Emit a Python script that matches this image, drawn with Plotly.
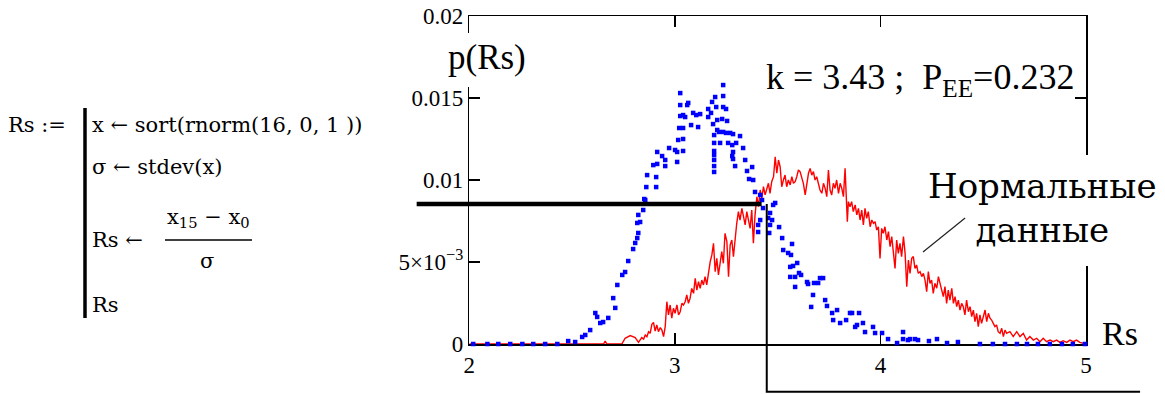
import plotly.graph_objects as go

# ---------------- data ----------------
# blue dotted series (Rs values and probability density, in units of 1e-3)
blue_rs = [2.019, 2.088, 2.141, 2.199, 2.258, 2.311, 2.369, 2.428, 2.481, 2.515,
           2.549, 2.564, 2.588, 2.613, 2.622, 2.637, 2.651, 2.676, 2.700, 2.710,
           2.720, 2.744, 2.758, 2.773, 2.797, 2.807, 2.817, 2.822, 2.817, 2.831,
           2.822, 2.846, 2.856, 2.851, 2.861, 2.865, 2.909, 2.909, 2.895, 2.914,
           2.914, 2.938, 2.953, 2.953, 2.972, 3.001, 3.011, 3.011, 3.016, 3.040,
           3.040, 3.021, 3.040, 3.026, 3.040, 3.026, 3.060, 3.065, 3.026, 3.050,
           3.079, 3.089, 3.104, 3.113, 3.123, 3.162, 3.162, 3.176, 3.181, 3.196,
           3.201, 3.186, 3.206, 3.206, 3.191, 3.191, 3.191, 3.191, 3.191, 3.191,
           3.191, 3.215, 3.220, 3.230, 3.235, 3.235, 3.235, 3.249, 3.254, 3.235,
           3.249, 3.269, 3.283, 3.259, 3.279, 3.283, 3.279, 3.283, 3.298, 3.317,
           3.332, 3.293, 3.342, 3.351, 3.376, 3.361, 3.381, 3.390, 3.415, 3.424,
           3.429, 3.415, 3.405, 3.405, 3.454, 3.463, 3.473, 3.463, 3.459, 3.478,
           3.488, 3.507, 3.522, 3.527, 3.551, 3.565, 3.570, 3.561, 3.575, 3.595,
           3.561, 3.585, 3.604, 3.614, 3.585, 3.643, 3.648, 3.672, 3.677, 3.697,
           3.706, 3.721, 3.663, 3.731, 3.740, 3.765, 3.789, 3.770, 3.804, 3.833,
           3.852, 3.862, 3.896, 3.886, 3.877, 3.915, 3.925, 3.964, 3.974, 4.008,
           4.037, 4.081, 4.110, 4.110, 4.134, 4.144, 4.168, 4.183, 4.236, 4.275,
           4.324, 4.377, 4.484, 4.547, 4.606, 4.664, 4.713, 4.766, 4.824, 4.883,
           4.936, 4.995]
blue_p_e3 = [0, 0, 0, 0, 0, 0, 0, 0, 0.18, 0.12,
             0.43, 0.55, 0.85, 1.89, 1.65, 1.28, 1.34, 1.59, 2.80, 2.20,
             3.60, 4.21, 4.39, 5.06, 5.79, 6.16, 6.46, 6.77, 7.38, 7.44,
             7.87, 8.17, 8.78, 8.84, 9.57, 10.30, 9.57, 10.18, 10.91, 10.98,
             11.71, 11.46, 11.22, 10.85, 11.95, 11.83, 11.10, 11.71, 12.44, 12.50,
             11.77, 13.17, 13.17, 13.90, 13.96, 14.57, 14.57, 14.70, 15.30, 13.84,
             13.35, 14.09, 13.96, 13.23, 14.02, 14.33, 13.84, 14.09, 14.76, 15.06,
             14.45, 13.41, 13.66, 13.05, 12.74, 12.26, 11.77, 11.52, 11.22, 10.85,
             10.49, 12.93, 12.26, 13.72, 15.79, 15.12, 14.45, 14.33, 13.60, 12.93,
             12.87, 12.87, 12.80, 12.26, 12.13, 11.71, 11.46, 11.28, 12.26, 12.68,
             11.95, 10.85, 11.22, 10.55, 10.79, 10.06, 10.00, 9.27, 9.09, 8.78,
             8.29, 7.56, 7.26, 6.83, 7.68, 7.99, 7.56, 7.26, 6.77, 8.48,
             8.60, 7.13, 6.46, 5.73, 5.55, 5.43, 6.10, 4.70, 4.76, 4.94,
             4.09, 4.09, 4.33, 4.21, 3.48, 3.78, 3.66, 2.99, 3.72, 3.72,
             4.02, 4.02, 2.26, 2.68, 2.32, 1.89, 2.07, 1.46, 1.28, 1.46,
             1.89, 1.89, 1.89, 1.16, 1.04, 1.28, 0.73, 1.04, 0.67, 0.67,
             0.30, 0.06, 0.73, 0.30, 0.24, 0.30, 0.30, 0.24, 0.18, 0.30,
             0.06, 0.12, 0, 0, 0, 0, 0, 0, 0, 0,
             0, 0]

# red line series ("Нормальные данные")
red_rs = [2.000, 2.653, 2.661, 2.669, 2.742, 2.758, 2.783, 2.807, 2.823, 2.831,
          2.839, 2.848, 2.856, 2.864, 2.872, 2.880, 2.888, 2.896, 2.904, 2.912,
          2.920, 2.929, 2.937, 2.945, 2.953, 2.961, 2.969, 2.977, 2.985, 2.993,
          3.001, 3.010, 3.018, 3.026, 3.034, 3.042, 3.050, 3.058, 3.066, 3.074,
          3.082, 3.091, 3.099, 3.107, 3.115, 3.123, 3.131, 3.139, 3.147, 3.155,
          3.163, 3.172, 3.180, 3.188, 3.196, 3.204, 3.212, 3.220, 3.228, 3.236,
          3.244, 3.253, 3.261, 3.269, 3.277, 3.285, 3.293, 3.301, 3.309, 3.317,
          3.326, 3.334, 3.342, 3.350, 3.358, 3.366, 3.374, 3.382, 3.390, 3.399,
          3.407, 3.415, 3.423, 3.431, 3.439, 3.447, 3.455, 3.463, 3.471, 3.480,
          3.488, 3.496, 3.504, 3.512, 3.520, 3.528, 3.536, 3.544, 3.552, 3.561,
          3.569, 3.577, 3.585, 3.593, 3.601, 3.609, 3.617, 3.625, 3.634, 3.642,
          3.650, 3.658, 3.666, 3.674, 3.682, 3.690, 3.698, 3.706, 3.715, 3.723,
          3.731, 3.739, 3.747, 3.755, 3.763, 3.771, 3.779, 3.787, 3.796, 3.804,
          3.812, 3.820, 3.828, 3.836, 3.839, 3.844, 3.852, 3.860, 3.868, 3.877,
          3.885, 3.893, 3.901, 3.909, 3.917, 3.925, 3.933, 3.941, 3.950, 3.958,
          3.966, 3.974, 3.982, 3.990, 3.998, 4.006, 4.014, 4.022, 4.031, 4.039,
          4.047, 4.055, 4.063, 4.071, 4.079, 4.087, 4.095, 4.103, 4.112, 4.120,
          4.128, 4.136, 4.144, 4.152, 4.160, 4.168, 4.176, 4.184, 4.193, 4.201,
          4.209, 4.217, 4.225, 4.233, 4.241, 4.249, 4.257, 4.265, 4.274, 4.282,
          4.290, 4.306, 4.314, 4.322, 4.330, 4.338, 4.347, 4.355, 4.363, 4.371,
          4.379, 4.387, 4.395, 4.403, 4.411, 4.419, 4.428, 4.436, 4.444, 4.452,
          4.460, 4.468, 4.476, 4.484, 4.492, 4.500, 4.509, 4.517, 4.525, 4.533,
          4.541, 4.549, 4.557, 4.565, 4.573, 4.582, 4.590, 4.598, 4.606, 4.614,
          4.630, 4.646, 4.663, 4.679, 4.695, 4.711, 4.727, 4.744, 4.760, 4.776,
          4.792, 4.808, 4.825, 4.841, 4.857, 4.873, 4.889, 4.906, 4.922, 4.938,
          4.954, 4.970, 5.000]
red_p_e3 = [0, 0, 0.18, 0, 0, 0.35, 0.51, 0.39, 0.10, 0.24,
            0.39, 0.30, 0.55, 0.45, 0.75, 0.65, 1.20, 1.32, 0.79, 1.16,
            0.75, 1.00, 0.85, 0.45, 1.06, 2.58, 1.77, 2.38, 1.57, 2.18,
            1.87, 2.38, 1.77, 1.97, 2.48, 2.38, 2.58, 2.99, 2.48, 2.79,
            3.39, 3.09, 4.00, 3.29, 3.80, 3.39, 3.90, 3.60, 4.11, 3.60,
            4.41, 5.02, 5.43, 6.14, 4.41, 5.23, 4.21, 4.82, 5.63, 4.92,
            6.75, 6.24, 4.11, 6.04, 6.34, 5.33, 6.44, 7.36, 8.07, 7.56,
            8.27, 7.66, 7.26, 8.07, 7.46, 7.05, 8.17, 6.14, 7.87, 8.98,
            8.37, 9.39, 8.88, 9.59, 9.09, 9.39, 9.80, 9.19, 9.90, 10.20,
            11.42, 10.41, 11.22, 10.81, 9.59, 10.00, 10.30, 9.59, 10.00, 9.70,
            10.20, 9.80, 9.90, 10.20, 10.61, 10.51, 10.20, 9.80, 9.09, 9.90,
            10.41, 10.71, 10.30, 10.51, 10.00, 10.20, 9.70, 9.39, 9.19, 9.80,
            9.49, 8.98, 10.61, 9.39, 9.09, 9.80, 9.49, 10.00, 9.19, 9.80,
            9.49, 8.98, 10.71, 8.88, 7.46, 8.68, 8.37, 8.68, 8.07, 8.48,
            7.87, 8.27, 7.56, 8.17, 7.26, 8.27, 7.66, 8.07, 7.15, 7.56,
            7.36, 7.46, 6.95, 7.15, 5.22, 7.05, 6.75, 7.15, 6.34, 6.85,
            5.94, 6.55, 5.73, 4.61, 6.34, 5.53, 6.14, 5.33, 6.55, 5.53,
            3.50, 5.12, 4.31, 5.22, 5.33, 4.61, 4.82, 4.31, 4.41, 4.11,
            4.31, 3.90, 3.19, 4.41, 3.70, 3.90, 3.09, 3.70, 3.40, 4.11,
            3.70, 2.89, 3.50, 2.48, 3.29, 2.68, 3.39, 2.48, 2.89, 2.28,
            2.68, 2.07, 2.48, 2.28, 1.77, 2.68, 1.97, 2.28, 1.67, 2.07,
            1.36, 1.87, 1.06, 1.77, 1.26, 1.67, 2.07, 1.36, 1.87, 1.57,
            1.46, 1.26, 1.06, 1.16, 0.75, 0.65, 0.96, 0.45, 0.85, 0.65,
            0.75, 0.45, 0.75, 0.45, 0.65, 0.24, 0.45, 0.24, 0.35, 0.14,
            0.35, 0.14, 0.24, 0.14, 0.24, 0.10, 0.20, 0.10, 0.24, 0.14,
            0.24, 0.10, 0]

# axis ticks
x_ticks = [2, 3, 4, 5]
x_tick_text = ["2", "3", "4", "5"]
y_ticks = [0, 0.005, 0.01, 0.015, 0.02]
y_tick_text = ["0", "5×10<sup>−3</sup>", "0.01", "0.015", "0.02"]

# critical value k and its marker lines
k_value = 3.43
k_line_x = 3.447          # where the vertical marker is drawn
k_level = 0.00854         # density level of the thick horizontal marker
level_x_from = 1.744      # thick line starts left of the axis
level_x_to = 3.422
below_axis_y = -0.00291   # lower end of the vertical marker
bottom_line_x_to = 5.263
leader_rs = [4.207, 4.412]
leader_p = [0.00561, 0.00768]

p_ee = 0.232

# ---------------- layout geometry ----------------
W, H = 1165, 394
X_DOM = [469.3 / W, 1086.0 / W]
Y_DOM = [1 - 344.0 / H, 1 - 16.0 / H]
X_RANGE = [2, 5]
Y_RANGE = [0, 0.02]


def ext_range(rng, dom):
    span = rng[1] - rng[0]
    d = dom[1] - dom[0]
    return [rng[0] - span * dom[0] / d, rng[1] + span * (1 - dom[1]) / d]


def PX(p):
    return p / W


def PY(p):
    return 1 - p / H


SERIF = "Liberation Serif"
WIDE_SERIF = "DejaVu Serif"

fig = go.Figure()

fig.add_trace(go.Scatter(
    x=red_rs, y=[v * 1e-3 for v in red_p_e3], mode="lines",
    line=dict(color="#ff0000", width=1.4), xaxis="x", yaxis="y",
    hoverinfo="skip"))
fig.add_trace(go.Scatter(
    x=blue_rs, y=[v * 1e-3 for v in blue_p_e3], mode="markers",
    marker=dict(symbol="square", size=4.5, color="#0000ff", line=dict(width=0)),
    cliponaxis=False, xaxis="x", yaxis="y", hoverinfo="skip"))

# marker lines on a full-canvas overlay axis with the same scale
fig.add_trace(go.Scatter(
    x=[level_x_from, level_x_to], y=[k_level, k_level], mode="lines",
    line=dict(color="black", width=4.5), xaxis="x2", yaxis="y2", hoverinfo="skip"))
fig.add_trace(go.Scatter(
    x=[k_line_x, k_line_x, bottom_line_x_to], y=[k_level, below_axis_y, below_axis_y],
    mode="lines", line=dict(color="black", width=2), xaxis="x2", yaxis="y2",
    hoverinfo="skip"))
fig.add_trace(go.Scatter(
    x=leader_rs, y=leader_p, mode="lines",
    line=dict(color="#222222", width=1.2), xaxis="x2", yaxis="y2", hoverinfo="skip"))

axis_common = dict(
    showline=True, linecolor="black", linewidth=1.5, mirror="ticks",
    ticks="inside", ticklen=11, tickwidth=1.5, tickcolor="black",
    showgrid=False, zeroline=False, layer="below traces",
    tickfont=dict(family=SERIF, size=23, color="black"),
    fixedrange=True, tickmode="array", automargin=False,
)

shapes = [
    # white patches where text sits over the frame
    dict(type="rect", xref="paper", yref="paper", x0=PX(462), x1=PX(476),
         y0=PY(87), y1=PY(33), fillcolor="white", line=dict(width=0), layer="above"),
    dict(type="rect", xref="paper", yref="paper", x0=PX(1072), x1=PX(1094),
         y0=PY(266), y1=PY(155), fillcolor="white", line=dict(width=0), layer="above"),
    # program bracket bar and fraction bar
    dict(type="line", xref="paper", yref="paper", x0=PX(85), x1=PX(85),
         y0=PY(108), y1=PY(318), line=dict(color="black", width=3.5)),
    dict(type="line", xref="paper", yref="paper", x0=PX(165), x1=PX(252),
         y0=PY(240), y1=PY(240), line=dict(color="black", width=1.5)),
]


def txt(text, x, y, size, family=SERIF, xanchor="left", yanchor="middle"):
    return dict(text=text, x=PX(x), y=PY(y), xref="paper", yref="paper",
                xanchor=xanchor, yanchor=yanchor, showarrow=False,
                font=dict(family=family, size=size, color="black"))


PROG = 21
annotations = [
    txt("p(Rs)", 487, 57, 35, xanchor="center"),
    txt(f"k = {k_value:.2f} ;  P<sub>EE</sub>={p_ee}", 764, 80, 36),
    txt("Нормальные<br>данные", 1042, 208, 34, family=WIDE_SERIF, xanchor="center"),
    txt("Rs", 1120, 333, 34, xanchor="center"),
    txt("Rs :=", 6, 125, PROG, family=WIDE_SERIF),
    txt("x ← sort(rnorm(16, 0, 1 ))", 90, 125, PROG, family=WIDE_SERIF),
    txt("σ ← stdev(x)", 90, 167, PROG, family=WIDE_SERIF),
    txt("Rs ←", 90, 240, PROG, family=WIDE_SERIF),
    txt("x<sub>15</sub> − x<sub>0</sub>", 208, 218, PROG, family=WIDE_SERIF, xanchor="center"),
    txt("σ", 207, 261, PROG, family=WIDE_SERIF, xanchor="center"),
    txt("Rs", 90, 305, PROG, family=WIDE_SERIF),
]

fig.update_layout(
    width=W, height=H, autosize=False,
    margin=dict(l=0, r=0, t=0, b=0, pad=0, autoexpand=False),
    paper_bgcolor="white", plot_bgcolor="rgba(0,0,0,0)",
    showlegend=False,
    xaxis=dict(domain=X_DOM, range=X_RANGE, anchor="y",
               tickvals=x_ticks, ticktext=x_tick_text, **axis_common),
    yaxis=dict(domain=Y_DOM, range=Y_RANGE, anchor="x",
               tickvals=y_ticks, ticktext=y_tick_text, **axis_common),
    xaxis2=dict(domain=[0, 1], range=ext_range(X_RANGE, X_DOM), anchor="y2",
                visible=False, fixedrange=True),
    yaxis2=dict(domain=[0, 1], range=ext_range(Y_RANGE, Y_DOM), anchor="x2",
                visible=False, fixedrange=True),
    shapes=shapes,
    annotations=annotations,
)

fig.write_html("out.html", config={"displayModeBar": False, "staticPlot": True},
               post_script="document.body.style.margin='0';document.body.style.overflow='hidden';")
